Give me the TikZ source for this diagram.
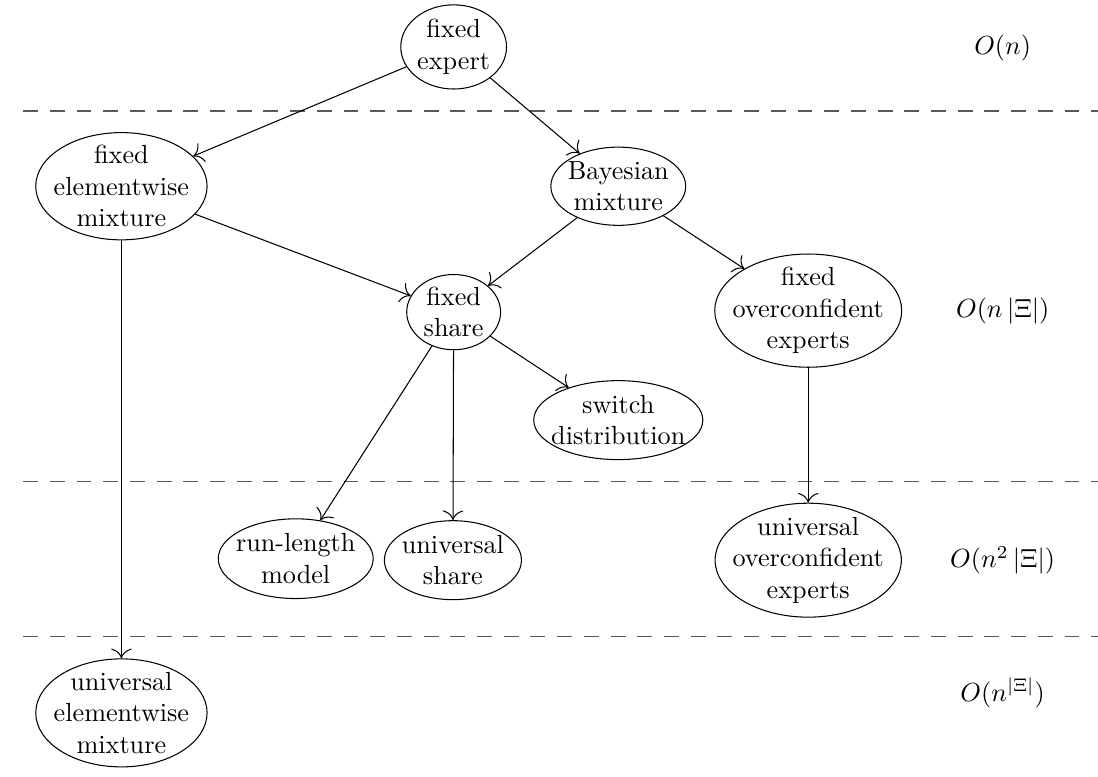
\documentclass[tikz,border=0pt]{standalone}
\usepackage{amssymb}
\usepackage{tikz}
\usetikzlibrary{calc}
\usetikzlibrary{positioning}
\usetikzlibrary{arrows.meta}
\usetikzlibrary{shapes}

\begin{document}
\begin{tikzpicture}[>={To[scale=1.5]},
model/.style 2 args={draw,ellipse,align=center,inner sep=-1cm,minimum width=#1,minimum height=#2},
sep/.style={black!65,dash pattern=on 5.7pt off 4.5pt}]

\useasboundingbox (0,0) rectangle (14.74,-10.42);

% levels
\draw[sep] (0.31,-1.49) -- (14.74,-1.49);
\draw[sep] (0.31,-6.47) -- (14.74,-6.47);
\draw[sep] (0.31,-8.55) -- (14.74,-8.55);

\node [model={1.42cm}{1.13cm}] (expert) at (6.09,-0.63) {fixed\\expert};
\node [model={2.30cm}{1.44cm}] (fem) at (1.63,-2.50) {fixed\\elementwise\\mixture};
\node [model={1.81cm}{1.05cm}] (bayes) at (8.30,-2.50) {Bayesian\\mixture};
\node [model={1.26cm}{1.01cm}] (share) at (6.09,-4.19) {fixed\\share};
\node [model={2.51cm}{1.52cm}] (foe) at (10.85,-4.17) {fixed\\overconfident\\experts};
\node [model={2.27cm}{1.06cm}] (switch) at (8.30,-5.64) {switch\\distribution};
\node [model={2.08cm}{1.07cm}] (runlen) at (3.97,-7.50) {run-length\\model};
\node [model={1.84cm}{1.06cm}] (ushare) at (6.08,-7.52) {universal\\share};
\node [model={2.50cm}{1.53cm}] (uoe) at (10.85,-7.52) {universal\\overconfident\\experts};
\node [model={2.30cm}{1.45cm}] (uem) at (1.63,-9.57) {universal\\elementwise\\mixture};

% running times
\node (on) at (13.46,-0.64) {$O(n)$};
\node (onx) at (13.46,-4.17) {$O(n\,|\Xi|)$};
\node (onnx) at (13.46,-7.52) {$O(n^2\,|\Xi|)$};
\node (onpx) at (13.46,-9.30) {$O(n^{|\Xi|})$};

\draw [->] (expert) -- (fem);
\draw [->] (expert) -- (bayes);
\draw [->] (fem) -- (share);
\draw [->] (bayes) -- (share);
\draw [->] (bayes) -- (foe);
\draw [->] (share) -- (switch);
\draw [->] (share) -- (runlen);
\draw [->] (share) -- (ushare);
\draw [->] (foe) -- (uoe);
\draw [->] (fem) -- (uem);

\end{tikzpicture}
\end{document}
